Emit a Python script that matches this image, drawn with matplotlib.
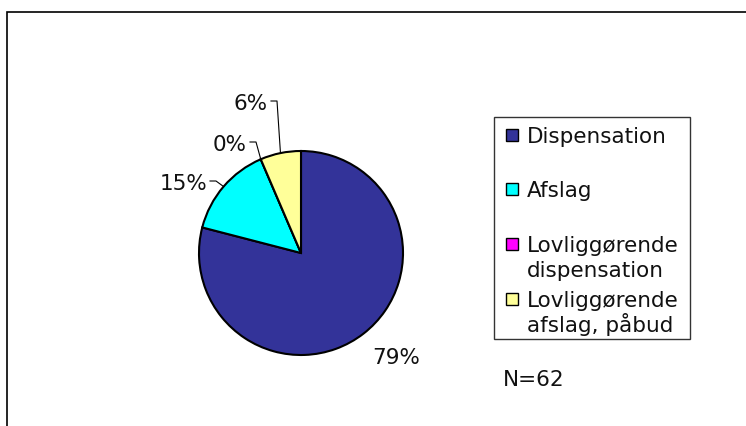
import matplotlib
matplotlib.use("Agg")
import matplotlib.pyplot as plt
from matplotlib.patches import Rectangle
import numpy as np

# data
categories = ["Dispensation", "Afslag", "Lovliggørende\ndispensation", "Lovliggørende\nafslag, påbud"]
counts = [49, 9, 0, 4]
colors = ["#333399", "#00FFFF", "#FF00FF", "#FFFF99"]
n_text = "N=62"

W, H = 746, 426
FS = 15.5


def py(y):
    # pixel row from top -> data y
    return H - y


fig = plt.figure(figsize=(W / 100, H / 100), dpi=100)
ax = fig.add_axes([0, 0, 1, 1])

cx, cy, r = 301, py(253), 102
wedges, _ = ax.pie(counts, colors=colors, startangle=90, counterclock=False,
                   radius=r, center=(cx, cy),
                   wedgeprops=dict(edgecolor="black", linewidth=1.5))
ax.set_xlim(0, W)
ax.set_ylim(0, H)
ax.set_aspect("equal")
ax.axis("off")

total = sum(counts)
pct = [f"{round(100 * c / total)}%" for c in counts]

# label layout: (x, baseline row, leader?)
label_pos = [(372, 364, False), (207, 190, True), (247, 151, True), (268, 110, True)]
for w, txt, (lx, ly, lead) in zip(wedges, pct, label_pos):
    if not lead:
        ax.text(lx, py(ly), txt, fontsize=FS, ha="left", va="baseline", color="#111111")
        continue
    ax.text(lx, py(ly), txt, fontsize=FS, ha="right", va="baseline", color="#111111")
    mid = np.deg2rad((w.theta1 + w.theta2) / 2)
    ex, ey = cx + r * np.cos(mid), cy + r * np.sin(mid)
    yl = py(ly - 9)
    ax.plot([lx + 3, lx + 9, ex], [yl, yl, ey], color="black", lw=0.8)

# legend drawn by hand
ax.add_patch(Rectangle((494, py(339)), 196, 222, fill=False, edgecolor="#333333", lw=1))
leg_rows = [143, 197, 252, 307]
for name, col, yb in zip(categories, colors, leg_rows):
    ax.add_patch(Rectangle((506, py(yb - 2)), 12, 12, facecolor=col, edgecolor="black", lw=1))
    for i, line in enumerate(name.split("\n")):
        ax.text(527, py(yb + 25 * i), line, fontsize=FS, ha="left", va="baseline", color="#111111")

ax.text(503, py(386), n_text, fontsize=FS, ha="left", va="baseline", color="#111111")

# outer chart frame (cut off at right/bottom)
ax.add_patch(Rectangle((7, py(470)), 800, 458, fill=False, edgecolor="black", lw=1.2, clip_on=False))

fig.savefig("out.png", dpi=100)
